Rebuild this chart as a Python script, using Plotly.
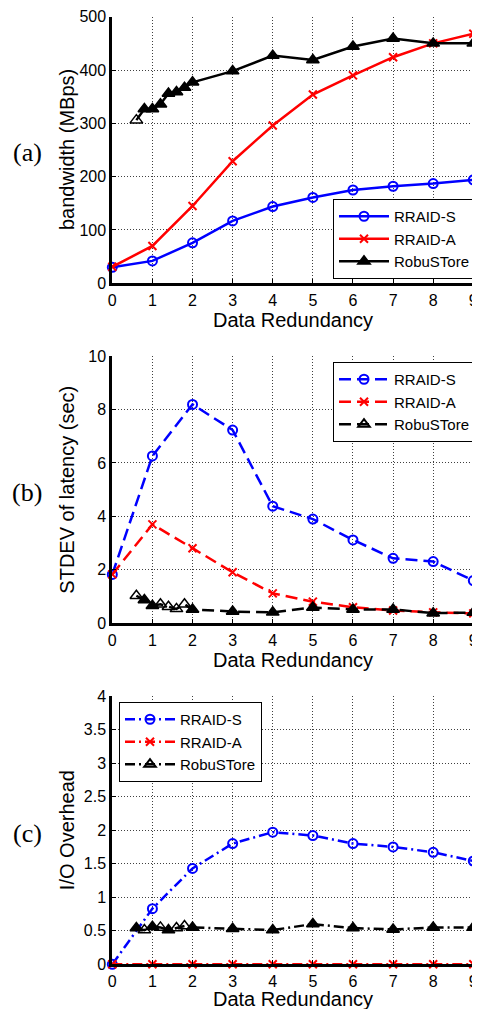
import plotly.graph_objects as go

# page is 480x1009; the browser body adds an 8px margin, so the figure is 8px smaller
OFFSET = 8
W, H = 480 - OFFSET, 1009 - OFFSET

# ─── Data ────────────────────────────────────────────────────────────────────

redundancy = [0, 1, 2, 3, 4, 5, 6, 7, 8, 9]
redundancy_robu = [0.6, 0.8, 1.0, 1.2, 1.4, 1.6, 1.8, 2.0, 3, 4, 5, 6, 7, 8, 9]

# (a) bandwidth (MBps)
bw_rraid_s = [30, 42, 76, 117, 144, 161, 175, 182, 187, 194]
bw_rraid_a = [31, 70, 145, 229, 296, 354, 390, 424, 450, 468]
bw_robustore = [306, 327, 327, 336, 356, 359, 367, 377, 398, 427, 419, 444, 459, 450, 450]

# (b) STDEV of latency (sec)
sd_rraid_s = [1.83, 6.26, 8.19, 7.23, 4.38, 3.90, 3.12, 2.43, 2.31, 1.60]
sd_rraid_a = [1.83, 3.70, 2.81, 1.91, 1.12, 0.81, 0.60, 0.48, 0.41, 0.37]
sd_robustore = [1.03, 0.87, 0.66, 0.71, 0.62, 0.54, 0.71, 0.52, 0.44, 0.41, 0.59, 0.52, 0.52, 0.38, 0.40]

# (c) I/O overhead
io_rraid_s = [0, 0.83, 1.43, 1.80, 1.97, 1.92, 1.80, 1.75, 1.67, 1.54]
io_rraid_a = [0, 0, 0, 0, 0, 0, 0, 0, 0, 0]
io_robustore = [0.54, 0.51, 0.56, 0.55, 0.51, 0.54, 0.57, 0.55, 0.53, 0.51, 0.60, 0.54, 0.52, 0.55, 0.55]

series_names = ["RRAID-S", "RRAID-A", "RobuSTore"]
x_tick_vals = [0, 1, 2, 3, 4, 5, 6, 7, 8, 9]

# ─── Styling ─────────────────────────────────────────────────────────────────

SANS = "Liberation Sans, Arial, sans-serif"
SERIF = "Liberation Serif, Times New Roman, serif"
BLUE, RED, BLACK = "#0000ff", "#ff0000", "#000000"


def px(x):
    # page pixel -> paper fraction
    return (x - OFFSET) / W


def py(y):
    return 1 - (y - OFFSET) / H


X_DOMAIN = [px(112.3), px(473.3)]

panels = [
    dict(label="(a)", ytitle="bandwidth (MBps)", top=16.7, bottom=283.3,
         yrange=[0, 500], dtick=100, dash="solid", xlabel_y=320,
         data=(bw_rraid_s, bw_rraid_a, bw_robustore),
         open_idx={0}, legend_open=False,
         legend=dict(x=px(476), xanchor="right", y=py(279), yanchor="bottom")),
    dict(label="(b)", ytitle="STDEV of latency (sec)", top=356, bottom=623.3,
         yrange=[0, 10], dtick=2, dash="12px,6px", xlabel_y=660,
         data=(sd_rraid_s, sd_rraid_a, sd_robustore),
         open_idx={0, 3, 4, 5, 6}, legend_open=True,
         legend=dict(x=px(476), xanchor="right", y=py(362), yanchor="top")),
    dict(label="(c)", ytitle="I/O Overhead", top=696, bottom=964.3,
         yrange=[0, 4], dtick=0.5, dash="10px,4px,2px,4px", xlabel_y=999,
         data=(io_rraid_s, io_rraid_a, io_robustore),
         open_idx={1, 3, 5, 6}, legend_open=True,
         legend=dict(x=px(119), xanchor="left", y=py(702), yanchor="top")),
]

fig = go.Figure()
annotations = []
layout = {}

for i, p in enumerate(panels):
    n = "" if i == 0 else str(i + 1)
    xref, yref = "x" + n, "y" + n
    leg = "legend" + n
    s_vals, a_vals, r_vals = p["data"]

    fig.add_trace(go.Scatter(
        x=redundancy, y=s_vals, name=series_names[0], xaxis=xref, yaxis=yref,
        legend=leg, mode="lines+markers", cliponaxis=False,
        line=dict(color=BLUE, width=2.5, dash=p["dash"]),
        marker=dict(symbol="circle-open", size=9, color=BLUE, line=dict(width=2, color=BLUE)),
    ))
    fig.add_trace(go.Scatter(
        x=redundancy, y=a_vals, name=series_names[1], xaxis=xref, yaxis=yref,
        legend=leg, mode="lines+markers", cliponaxis=False,
        line=dict(color=RED, width=2.5, dash=p["dash"]),
        marker=dict(symbol="x-thin", size=8, color=RED, line=dict(width=2, color=RED)),
    ))
    symbols = ["triangle-up-open" if k in p["open_idx"] else "triangle-up"
               for k in range(len(redundancy_robu))]
    fig.add_trace(go.Scatter(
        x=redundancy_robu, y=r_vals, name=series_names[2], xaxis=xref, yaxis=yref,
        legend=leg, showlegend=False, mode="lines+markers", cliponaxis=False,
        line=dict(color=BLACK, width=2.5, dash=p["dash"]),
        marker=dict(symbol=symbols, size=11, color=BLACK, line=dict(width=1.5, color=BLACK)),
    ))
    # legend-only entry for RobuSTore
    fig.add_trace(go.Scatter(
        x=[None], y=[None], name=series_names[2], xaxis=xref, yaxis=yref,
        legend=leg, mode="lines+markers",
        line=dict(color=BLACK, width=2.5, dash=p["dash"]),
        marker=dict(symbol="triangle-up-open" if p["legend_open"] else "triangle-up",
                    size=10, color=BLACK, line=dict(width=2, color=BLACK)),
    ))

    axis_common = dict(
        showline=True, linewidth=3, linecolor=BLACK, mirror=False, automargin=False,
        ticks="inside", ticklen=4, tickwidth=1, tickcolor=BLACK,
        showgrid=True, gridcolor="rgba(0,0,0,0.75)", gridwidth=1, griddash="1px,2px",
        zeroline=False, tickfont=dict(family=SANS, size=16, color=BLACK),
        ticklabeloverflow="allow",
    )
    layout["xaxis" + n] = dict(
        domain=X_DOMAIN, range=[0, 9], tickvals=x_tick_vals, anchor=yref, **axis_common)
    layout["yaxis" + n] = dict(
        domain=[py(p["bottom"]), py(p["top"])], range=p["yrange"], dtick=p["dtick"],
        anchor=xref, **axis_common)
    layout[leg] = dict(
        **p["legend"], bgcolor="white", bordercolor=BLACK, borderwidth=1,
        font=dict(family=SANS, size=15, color=BLACK), tracegroupgap=0,
        itemwidth=50,
    )

    mid = (p["top"] + p["bottom"]) / 2
    annotations.append(dict(
        text=p["ytitle"], x=px(67), y=py(mid), xref="paper", yref="paper",
        textangle=-90, showarrow=False, xanchor="center", yanchor="middle",
        font=dict(family=SANS, size=20, color=BLACK)))
    annotations.append(dict(
        text="Data Redundancy", x=px(292.5), y=py(p["xlabel_y"]), xref="paper", yref="paper",
        showarrow=False, xanchor="center", yanchor="middle",
        font=dict(family=SANS, size=20, color=BLACK)))
    annotations.append(dict(
        text=p["label"], x=px(27), y=py(mid + 3), xref="paper", yref="paper",
        showarrow=False, xanchor="center", yanchor="middle",
        font=dict(family=SERIF, size=26, color=BLACK)))

fig.update_layout(
    **layout,
    width=W, height=H,
    margin=dict(l=0, r=0, t=0, b=0, autoexpand=False),
    paper_bgcolor="white", plot_bgcolor="white",
    annotations=annotations,
    showlegend=True,
)

fig.write_html("out.html")
